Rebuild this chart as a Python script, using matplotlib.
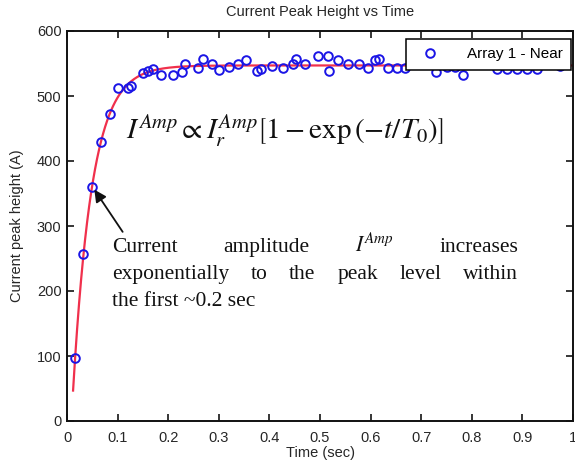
import numpy as np
import matplotlib
matplotlib.use('Agg')
import matplotlib.pyplot as plt

# ---------------- data ----------------
time_s = [0.016, 0.032, 0.049, 0.067, 0.084, 0.101, 0.121, 0.126, 0.151, 0.161,
          0.169, 0.185, 0.209, 0.227, 0.233, 0.259, 0.268, 0.286, 0.301, 0.321,
          0.337, 0.353, 0.375, 0.383, 0.405, 0.427, 0.446, 0.453, 0.470, 0.497,
          0.516, 0.518, 0.536, 0.556, 0.578, 0.595, 0.609, 0.616, 0.635, 0.652,
          0.668, 0.729, 0.750, 0.767, 0.783, 0.849, 0.869, 0.889, 0.909, 0.928,
          0.974]
peak_A = [97, 257, 360, 430, 472, 512, 512, 515, 535, 539,
          541, 532, 532, 537, 549, 543, 557, 550, 540, 545,
          549, 555, 539, 541, 546, 543, 550, 557, 549, 562,
          562, 539, 555, 549, 549, 543, 555, 557, 543, 543,
          543, 537, 545, 545, 533, 541, 541, 541, 541, 541,
          546]

# exponential fit parameters (red curve)
fit_amp = 547.0
fit_tau = 0.038
fit_t0 = 0.0086
fit_t_start = 0.012
fit_t_end = 1.0

x_ticks = [0, 0.1, 0.2, 0.3, 0.4, 0.5, 0.6, 0.7, 0.8, 0.9, 1.0]
x_tick_labels = ['0', '0.1', '0.2', '0.3', '0.4', '0.5', '0.6', '0.7', '0.8', '0.9', '1']
y_ticks = [0, 100, 200, 300, 400, 500, 600]
y_tick_labels = ['0', '100', '200', '300', '400', '500', '600']

title_text = 'Current Peak Height vs Time'
x_label = 'Time (sec)'
y_label = 'Current peak height (A)'
legend_label = 'Array 1 - Near'
equation = r'$I^{Amp} \propto I_{r}^{Amp}\left[1-\exp\left(-t/T_0\right)\right]$'
note_line1 = ['Current', 'amplitude', r'$I^{Amp}$', 'increases']
note_line2 = ['exponentially', 'to', 'the', 'peak', 'level', 'within']
note_line3 = 'the first ~0.2 sec'

# ---------------- figure ----------------
W, H = 575, 463
plt.rcParams['mathtext.fontset'] = 'stix'
sans = 'Liberation Sans'
serif = 'Liberation Serif'
fs = 10.5
txt_col = '#262626'

fig = plt.figure(figsize=(W / 100, H / 100), dpi=100)
fig.patch.set_facecolor('white')


def fx(px):
    return px / W


def fy(py):
    return 1 - py / H


ax = fig.add_axes([fx(67), fy(421), (573 - 67) / W, (421 - 31) / H])

tf = np.linspace(fit_t_start, fit_t_end, 500)
ax.plot(tf, fit_amp * (1 - np.exp(-(tf - fit_t0) / fit_tau)),
        color='#f0304c', lw=1.6, zorder=2)
ax.plot(time_s, peak_A, 'o', mfc='none', mec='#1a14e6', ms=6.2, mew=1.4,
        label=legend_label, zorder=3)

ax.set_xlim(0, 1)
ax.set_ylim(0, 600)
ax.set_xticks(x_ticks)
ax.set_xticklabels(x_tick_labels, fontsize=fs, family=sans, color=txt_col)
ax.set_yticks(y_ticks)
ax.set_yticklabels(y_tick_labels, fontsize=fs, family=sans, color=txt_col)
ax.tick_params(direction='in', length=5, width=1.1, top=True, right=True)
ax.tick_params(axis='x', pad=7)
ax.tick_params(axis='y', pad=4)
for s in ax.spines.values():
    s.set_linewidth(1.4)
    s.set_color('#111111')

ax.set_title(title_text, fontsize=fs, family=sans, color=txt_col, pad=11)
ax.set_xlabel(x_label, fontsize=fs, family=sans, color=txt_col, labelpad=1)
ax.set_ylabel(y_label, fontsize=fs, family=sans, color=txt_col, labelpad=9)

leg = ax.legend(loc='upper right', bbox_to_anchor=(fx(571), fy(39)),
                bbox_transform=fig.transFigure, borderaxespad=0,
                fancybox=False, framealpha=1, edgecolor='black',
                prop={'family': sans, 'size': 11}, handlelength=2.0,
                handletextpad=1.4, borderpad=0.55)
leg.get_frame().set_linewidth(1.1)
leg.set_zorder(5)

# equation
fig.text(fx(126), fy(139), equation, fontsize=21, color='#111111',
         ha='left', va='baseline')

# arrow
ax.annotate('', xy=(0.054, 356), xytext=(0.110, 291),
            arrowprops=dict(arrowstyle='-|>', color='#111111', lw=1.3,
                            mutation_scale=18, shrinkA=0, shrinkB=0))

# justified note text
renderer = fig.canvas.get_renderer()
note_size = 15.5


def justify(words, x_left, x_right, y_base):
    objs = [fig.text(0, fy(y_base), w, fontsize=note_size, family=serif,
                     color='#111111', ha='left', va='baseline') for w in words]
    widths = [o.get_window_extent(renderer).width for o in objs]
    gap = (x_right - x_left - sum(widths)) / (len(words) - 1)
    x = x_left
    for o, wd in zip(objs, widths):
        o.set_x(fx(x))
        x += wd + gap


justify(note_line1, 112, 518, 252)
justify(note_line2, 112, 518, 279)
fig.text(fx(112), fy(306), note_line3, fontsize=note_size, family=serif,
         color='#111111', ha='left', va='baseline')

fig.savefig('out.png', dpi=100, facecolor='white')
